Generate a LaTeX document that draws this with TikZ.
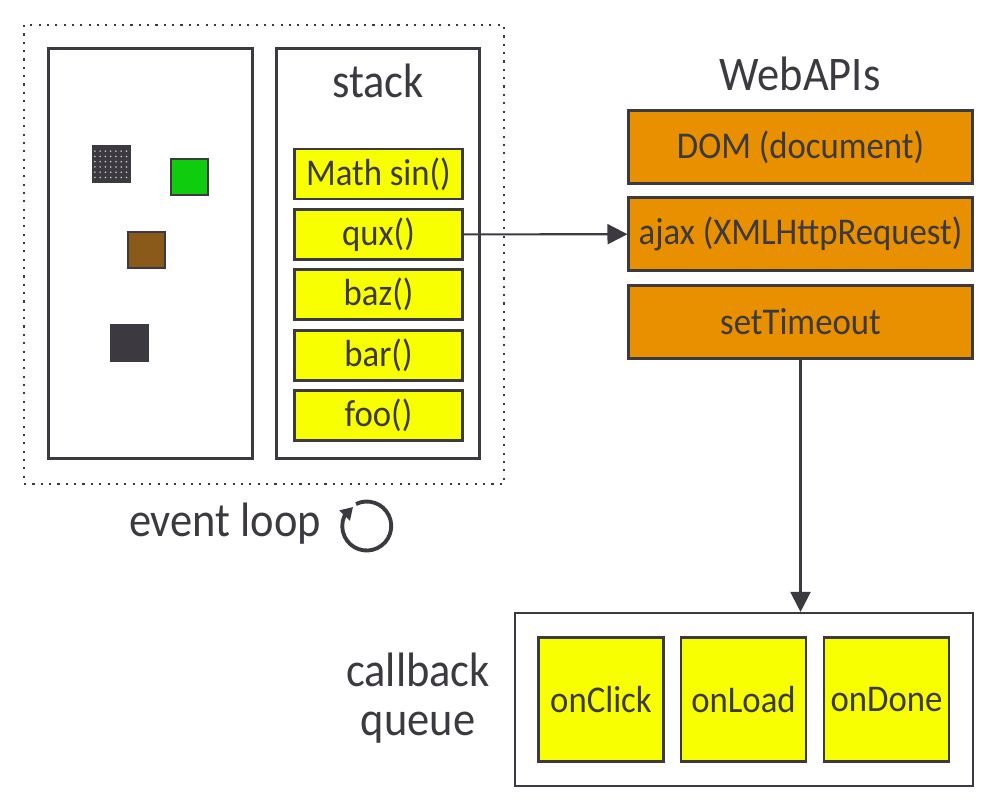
\documentclass[tikz,border=0pt]{standalone}
\usepackage{fontspec}
\setmainfont[FakeStretch=0.92]{Carlito}
\usetikzlibrary{arrows.meta,patterns}
\definecolor{ink}{HTML}{3C3A40}
\definecolor{stackyellow}{HTML}{F8FF00}
\definecolor{apiorange}{HTML}{E89000}
\definecolor{objgreen}{HTML}{0FCC0F}
\definecolor{objbrown}{HTML}{8A5A1A}
\tikzset{
	frame/.style = {rectangle, draw=ink, line width=1.2pt, inner sep=0pt},
	call/.style = {frame, fill=stackyellow, text=ink, font=\fontsize{21.5}{21.5}\selectfont, minimum width=3.36cm, minimum height=1cm},
	api/.style = {frame, fill=apiorange, text=ink, font=\fontsize{21.5}{21.5}\selectfont, minimum width=6.88cm, minimum height=1.46cm},
	cb/.style = {frame, fill=stackyellow, text=ink, font=\fontsize{21.5}{21.5}\selectfont, minimum width=2.5cm, minimum height=2.48cm},
	obj/.style = {frame, minimum size=0.73cm},
	caption/.style = {text=ink, font=\fontsize{27.5}{28}\selectfont, align=center},
	flow/.style = {draw=ink, line width=1.2pt, -{Triangle[length=0.4cm,width=0.4cm]}}
}
\begin{document}
\begin{tikzpicture}[x=0.02cm, y=-0.02cm]
	\useasboundingbox (0,0) rectangle (997,810);
	% event loop side
	\node (loopframe) [frame, dash pattern=on 1.2pt off 3.55pt, minimum width=9.6cm, minimum height=9.18cm] at (264,254.5) {};
	\node (heap) [frame, minimum width=4.08cm, minimum height=8.2cm] at (150.5,253.5) {};
	\node (stack) [frame, minimum width=4.06cm, minimum height=8.2cm] at (378,253.5) {};
	\node (stacklabel) [caption] at (378,81) {stack};
	\node (mathsin) [call] at (378.5,174) {Math sin()};
	\node (qux) [call] at (378.5,234.5) {qux()};
	\node (baz) [call] at (378.5,294.5) {baz()};
	\node (bar) [call] at (378.5,355.5) {bar()};
	\node (foo) [call] at (378.5,415.5) {foo()};
	\node (objgray) [obj, preaction={fill=ink}, pattern=dots, pattern color=white!75!ink] at (111.5,164) {};
	\node (objgreen) [obj, fill=objgreen] at (189.5,177) {};
	\node (objbrown) [obj, fill=objbrown] at (146.5,250) {};
	\node (objdark) [obj, fill=ink] at (129.5,343) {};
	\node (looplabel) [caption] at (225,524) {event loop};
	\coordinate (loopstart) at (356,504);
	\coordinate (looptip) at (353,507);
	\draw [draw=ink, line width=2.2pt, -{Triangle[length=0.24cm,width=0.28cm]}] (loopstart) arc [start angle=116, end angle=-205, x radius=24.5, y radius=-24.5] -- (looptip);
	% web side
	\node (weblabel) [caption] at (800,74) {WebAPIs};
	\node (dom) [api] at (800.5,147) {DOM (document)};
	\node (ajax) [api] at (800.5,234) {ajax (XMLHttpRequest)};
	\node (timeout) [api] at (800.5,322) {setTimeout};
	% callback queue
	\node (queue) [frame, minimum width=9.16cm, minimum height=3.46cm] at (744,699.5) {};
	\node (onclick) [cb] at (601,699.5) {onClick};
	\node (onload) [cb] at (743.5,699.5) {onLoad};
	\node (ondone) [cb] at (886.5,699.5) {onDone};
	\node (queuelabel) [caption] at (418,698.5) {callback\\queue};
	\draw [flow] (qux)--(ajax);
	\draw [flow] (timeout)--(timeout |- queue.north);
\end{tikzpicture}
\end{document}
